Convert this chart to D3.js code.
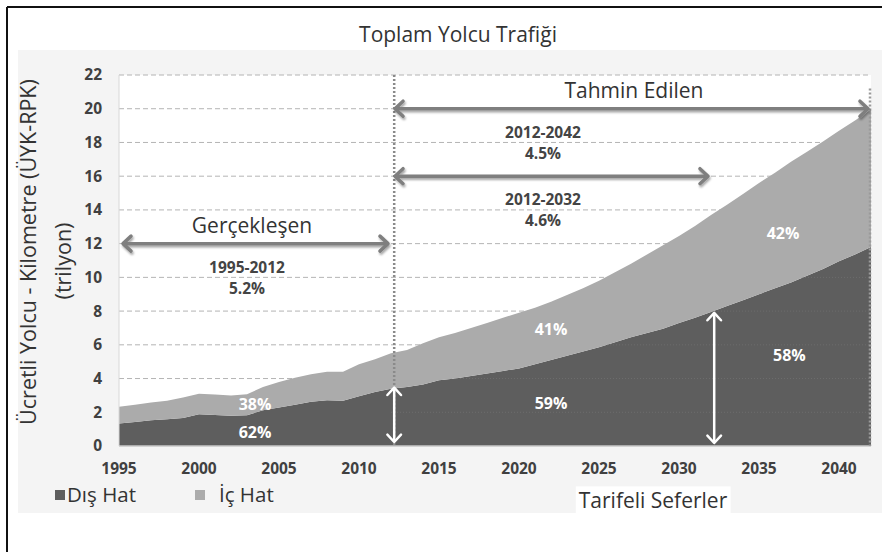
<!DOCTYPE html>
<html>
<head>
<meta charset="utf-8">
<script src="https://cdn.jsdelivr.net/npm/d3@7"></script>
<style>
  body { margin:0; background:#fff; }
  svg { display:block; font-family:"Open Sans", "DejaVu Sans", sans-serif; }
</style>
</head>
<body>
<script>
// yillar (1995-2042)
var years = d3.range(1995, 2043)

// Dış Hat (trilyon ÜYK)
var disHat = [1.34,1.42,1.52,1.58,1.66,1.88,1.84,1.80,1.82,2.12,
              2.28,2.45,2.62,2.72,2.68,2.95,3.20,3.40,3.50,3.65,
              3.90,4.00,4.15,4.30,4.45,4.60,4.85,5.10,5.35,5.60,
              5.85,6.15,6.45,6.70,6.95,7.30,7.60,7.95,8.30,8.65,
              9.00,9.35,9.70,10.10,10.50,10.95,11.35,11.80]

// İç Hat (trilyon ÜYK)
var icHat = [0.99,1.03,1.06,1.10,1.22,1.22,1.21,1.20,1.25,1.38,
             1.52,1.60,1.63,1.68,1.72,1.90,1.95,2.10,2.20,2.45,
             2.55,2.70,2.85,3.00,3.15,3.30,3.35,3.45,3.60,3.75,
             3.95,4.15,4.35,4.65,4.95,5.15,5.45,5.75,6.00,6.30,
             6.60,6.85,7.15,7.35,7.55,7.75,7.95,8.15]

var xTicks = [1995,2000,2005,2010,2015,2020,2025,2030,2035,2040]
var yTicks = [0,2,4,6,8,10,12,14,16,18,20,22]

var seriesNames = ["Dış Hat","İç Hat"]
var seriesColors = ["#5e5e5e","#ababab"]

// donem oklari: [baslangic, bitis, seviye]
var periodArrows = [[1995,2012,12],[2012,2042,20],[2012,2032,16]]
// buyume etiketleri: [yil, seviye, donem, oran]
var growthLabels = [[2003,10.6,"1995-2012","5.2%"],[2021.5,18.6,"2012-2042","4.5%"],[2021.5,14.6,"2012-2032","4.6%"]]
// pay etiketleri: [yil, deger, metin]
var shareLabels = [[2003.5,2.45,"38%"],[2003.5,0.8,"62%"],[2022,6.9,"41%"],[2022,2.55,"59%"],[2036.5,12.6,"42%"],[2036.9,5.4,"58%"]]

var width = 882, height = 552
var padding = {left:119, right:11, top:75, bottom:106}

var svg = d3.select("body").append("svg")
  .attr("width", width).attr("height", height)

var defs = svg.append("defs")
defs.append("filter").attr("id","shadow")
  .attr("x","-10%").attr("y","-50%").attr("width","120%").attr("height","200%")
  .append("feDropShadow")
  .attr("dx",1).attr("dy",2).attr("stdDeviation",1.2)
  .attr("flood-color","#000").attr("flood-opacity",0.35)

// arka plan
svg.append("rect").attr("x",0).attr("y",0).attr("width",width).attr("height",height).attr("fill","#fff")
svg.append("rect").attr("x",18).attr("y",50).attr("width",864).attr("height",463).attr("fill","#f4f4f4")

var scaleX = d3.scaleLinear().domain([1995,2042]).range([padding.left, width-padding.right])
var scaleY = d3.scaleLinear().domain([0,22]).range([height-padding.bottom, padding.top])

// cizim alani
svg.append("rect")
  .attr("x",scaleX(1995)).attr("y",scaleY(22))
  .attr("width",scaleX(2042)-scaleX(1995)).attr("height",scaleY(0)-scaleY(22))
  .attr("fill","#fff")

// kesikli izgara
svg.append("g").selectAll("line").data(yTicks.filter(function(d){return d>0}))
  .enter().append("line")
  .attr("x1",scaleX(1995)).attr("x2",scaleX(2042))
  .attr("y1",function(d){return scaleY(d)}).attr("y2",function(d){return scaleY(d)})
  .attr("stroke","#b4b4b4").attr("stroke-width",1).attr("stroke-dasharray","5,3")

// yigin alan
var table = years.map(function(y,i){return {year:y, "Dış Hat":disHat[i], "İç Hat":icHat[i]}})
var stack = d3.stack().keys(seriesNames)(table)
var area = d3.area()
  .x(function(d){return scaleX(d.data.year)})
  .y0(function(d){return scaleY(d[0])})
  .y1(function(d){return scaleY(d[1])})

svg.append("g").selectAll("path").data(stack).enter().append("path")
  .attr("d",area)
  .attr("fill",function(d,i){return seriesColors[i]})

// alan icindeki silik izgara
defs.append("clipPath").attr("id","darkclip").append("path").attr("d",area(stack[0]))
svg.append("g").attr("clip-path","url(#darkclip)")
  .selectAll("line").data(yTicks.filter(function(d){return d>0 && d<12}))
  .enter().append("line")
  .attr("x1",scaleX(2012)).attr("x2",scaleX(2042))
  .attr("y1",function(d){return scaleY(d)}).attr("y2",function(d){return scaleY(d)})
  .attr("stroke","#777").attr("stroke-width",0.6).attr("stroke-dasharray","1,2")

// eksen cizgileri
svg.append("line").attr("x1",scaleX(1995)).attr("x2",scaleX(2042))
  .attr("y1",scaleY(0)).attr("y2",scaleY(0)).attr("stroke","#c8c8c8").attr("stroke-width",1.5)
svg.append("line").attr("x1",scaleX(1995)).attr("x2",scaleX(1995))
  .attr("y1",scaleY(0)).attr("y2",scaleY(22)).attr("stroke","#d8d8d8").attr("stroke-width",1)

// noktali dikey cizgiler
svg.append("line").attr("x1",scaleX(2012.2)).attr("x2",scaleX(2012.2))
  .attr("y1",scaleY(22)).attr("y2",scaleY(0))
  .attr("stroke","#8a8a8a").attr("stroke-width",2.5).attr("stroke-dasharray","2,2")
svg.append("line").attr("x1",scaleX(2042)-1).attr("x2",scaleX(2042)-1)
  .attr("y1",scaleY(21.2)).attr("y2",scaleY(0))
  .attr("stroke","#9a9a9a").attr("stroke-width",2.5).attr("stroke-dasharray","2,2")

// eksen etiketleri
svg.append("g").selectAll("text").data(yTicks).enter().append("text")
  .attr("x",102).attr("y",function(d){return scaleY(d)}).attr("dy","0.35em")
  .attr("text-anchor","end").attr("font-size",15.5).attr("font-weight","bold").attr("fill","#404040")
  .text(function(d){return d})
svg.append("g").selectAll("text").data(xTicks).enter().append("text")
  .attr("x",function(d){return scaleX(d)}).attr("y",469).attr("dy","0.35em")
  .attr("text-anchor","middle").attr("font-size",15.5).attr("font-weight","bold").attr("fill","#404040")
  .text(function(d){return d})

// ok cizimi
function arrow(g, x1, y1, x2, y2, color, w, h, shadow)
{
  var a = Math.atan2(y2-y1, x2-x1)
  var grp = g.append("g")
  if (shadow) grp.attr("filter","url(#shadow)")
  grp.append("line").attr("x1",x1).attr("y1",y1).attr("x2",x2).attr("y2",y2)
    .attr("stroke",color).attr("stroke-width",w)
  var ends = [[x2,y2,a],[x1,y1,a+Math.PI]]
  ends.forEach(function(e){
    var p1 = [e[0]-h*Math.cos(e[2]-0.75), e[1]-h*Math.sin(e[2]-0.75)]
    var p2 = [e[0]-h*Math.cos(e[2]+0.75), e[1]-h*Math.sin(e[2]+0.75)]
    grp.append("path").attr("d","M"+p1+"L"+[e[0],e[1]]+"L"+p2)
      .attr("fill","none").attr("stroke",color).attr("stroke-width",w)
      .attr("stroke-linecap","round").attr("stroke-linejoin","round")
  })
}

var ann = svg.append("g")
periodArrows.forEach(function(p){
  arrow(ann, scaleX(p[0])+4, scaleY(p[2]), scaleX(p[1])-3, scaleY(p[2]), "#7f7f7f", 3.5, 11, true)
})

// beyaz dikey oklar
arrow(ann, scaleX(2012.2), scaleY(disHat[17])-1, scaleX(2012.2), scaleY(0)-4, "#fff", 2.5, 10, false)
arrow(ann, scaleX(2032.2), scaleY(disHat[37])+1, scaleX(2032.2), scaleY(0)-3, "#fff", 2.5, 10, false)

// baslik etiketleri
function boxLabel(text, cx, cy, size)
{
  var t = svg.append("text").attr("x",cx).attr("y",cy).attr("dy","0.35em")
    .attr("text-anchor","middle").attr("font-size",size).attr("fill","#333").text(text)
  var b = t.node().getBBox()
  svg.insert("rect", function(){return t.node()})
    .attr("x",b.x-3).attr("y",b.y).attr("width",b.width+6).attr("height",b.height).attr("fill","#fff")
}
boxLabel("Gerçekleşen", 252, 226, 21)
boxLabel("Tahmin Edilen", 634, 91, 21)

growthLabels.forEach(function(g){
  var t = ann.append("text").attr("x",scaleX(g[0])).attr("y",scaleY(g[1]))
    .attr("text-anchor","middle").attr("font-size",15.5).attr("font-weight","bold").attr("fill","#444")
  t.append("tspan").attr("x",scaleX(g[0])).attr("dy","0.35em").text(g[2])
  t.append("tspan").attr("x",scaleX(g[0])).attr("dy","1.35em").text(g[3])
})

shareLabels.forEach(function(s){
  ann.append("text").attr("x",scaleX(s[0])).attr("y",scaleY(s[1])).attr("dy","0.35em")
    .attr("text-anchor","middle").attr("font-size",16).attr("font-weight","bold").attr("fill","#fff")
    .text(s[2])
})

// baslik
svg.append("text").attr("x",458).attr("y",35).attr("dy","0.35em").attr("text-anchor","middle")
  .attr("font-size",21).attr("fill","#333").text("Toplam Yolcu Trafiği")

// y ekseni basligi
svg.append("text").attr("transform","translate(28,252) rotate(-90)").attr("dy","0.35em")
  .attr("text-anchor","middle").attr("font-size",21.5).attr("fill","#333")
  .text("Ücretli Yolcu - Kilometre (ÜYK-RPK)")
svg.append("text").attr("transform","translate(63,261) rotate(-90)").attr("dy","0.35em")
  .attr("text-anchor","middle").attr("font-size",21.5).attr("fill","#333")
  .text("(trilyon)")

// lejant
var legX = [55, 195]
var legTextX = [67, 219]
seriesNames.forEach(function(n,i){
  svg.append("rect").attr("x",legX[i]).attr("y",490).attr("width",10).attr("height",10)
    .attr("fill",seriesColors[i])
  svg.append("text").attr("x",legTextX[i]).attr("y",495).attr("dy","0.35em")
    .attr("font-size",20.5).attr("fill","#333").text(n)
})
boxLabel("Tarifeli Seferler", 653, 501, 21)

// cerceve
svg.append("line").attr("x1",7).attr("x2",7).attr("y1",7).attr("y2",height).attr("stroke","#111").attr("stroke-width",2)
svg.append("line").attr("x1",7).attr("x2",width).attr("y1",7).attr("y2",7).attr("stroke","#111").attr("stroke-width",2)
</script>
</body>
</html>
